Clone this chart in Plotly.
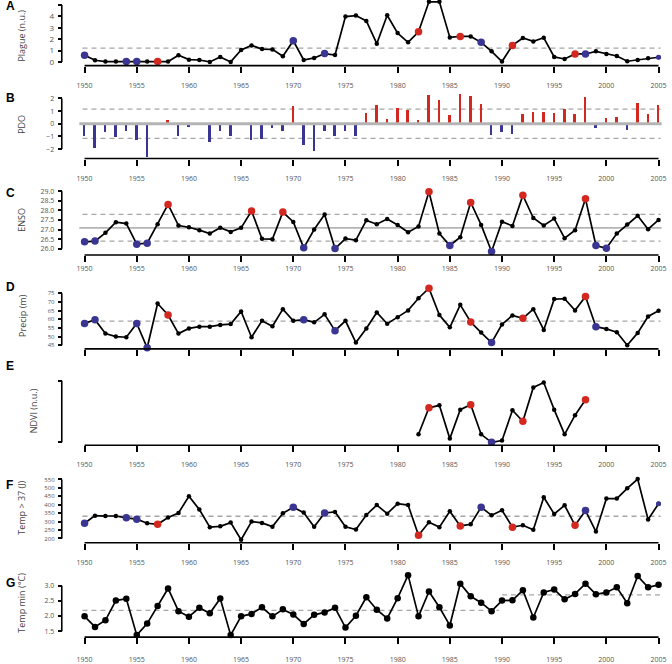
import plotly.graph_objects as go

# ---------------- data ----------------
years = list(range(1950, 2006))

plague = [0.58, 0.15, 0.03, 0.03, 0.03, 0.03, 0.03, 0.03, 0.03, 0.58,
          0.20, 0.17, 0.00, 0.44, 0.00, 1.05, 1.45, 1.13, 1.10, 0.50,
          1.86, 0.17, 0.35, 0.73, 0.60, 3.98, 4.07, 3.60, 1.60, 4.10,
          2.53, 1.72, 2.65, 5.28, 5.28, 2.15, 2.24, 2.24, 1.72, 0.93,
          0.03, 1.45, 2.10, 1.80, 2.12, 0.44, 0.26, 0.70, 0.70, 0.93,
          0.70, 0.52, 0.06, 0.17, 0.32, 0.41]
plague_ref = 1.22
plague_red = [1957, 1982, 1986, 1991, 1997]
plague_blue = [1950, 1954, 1955, 1970, 1973, 1988, 1998]
plague_blue_small = [2005]

pdo = [-1.02, -1.96, -0.71, -1.07, -0.63, -1.31, -2.62, 0.00, 0.26, -1.02,
       -0.31, 0.00, -1.49, -0.63, -0.97, 0.00, -1.34, -1.26, -0.39, -0.63,
       1.39, -1.73, -2.15, -0.63, -0.98, -0.58, -1.02, 0.79, 1.44, 0.37,
       1.18, 1.07, 0.26, 2.22, 1.83, 0.65, 2.28, 2.17, 1.52, -0.92,
       -0.71, -0.81, 0.76, 0.86, 0.89, 0.84, 1.13, 0.73, 2.09, -0.39,
       0.39, 0.52, -0.52, 1.60, 0.71, 1.44]
pdo_ref = 1.15

enso = [26.36, 26.40, 26.83, 27.38, 27.31, 26.24, 26.29, 27.28, 28.31, 27.21,
        27.12, 26.97, 26.79, 27.10, 26.88, 27.09, 27.97, 26.52, 26.50, 27.91,
        27.40, 26.05, 27.00, 27.78, 26.01, 26.53, 26.45, 27.48, 27.28, 27.55,
        27.24, 26.86, 27.16, 28.97, 26.79, 26.17, 26.60, 28.41, 27.24, 25.86,
        27.41, 27.19, 28.78, 27.60, 27.21, 27.57, 26.55, 26.97, 28.60, 26.17,
        26.03, 26.79, 27.26, 27.72, 27.02, 27.50]
enso_mean = 27.09
enso_hi = 27.79
enso_lo = 26.40
enso_red = [1958, 1966, 1969, 1983, 1987, 1992, 1998]
enso_blue = [1950, 1951, 1955, 1956, 1971, 1974, 1985, 1989, 1999, 2000]

precip = [57.6, 59.7, 51.7, 50.0, 49.6, 57.6, 43.5, 69.1, 62.4, 51.7,
          54.7, 55.7, 55.7, 56.7, 57.2, 64.5, 49.6, 59.1, 55.9, 65.8,
          59.1, 59.7, 58.2, 62.8, 53.4, 59.1, 46.5, 54.6, 63.9, 57.4,
          61.2, 65.1, 72.1, 77.9, 62.4, 55.3, 68.3, 58.4, 52.3, 46.5,
          57.0, 62.2, 60.5, 65.8, 53.8, 71.6, 71.8, 65.1, 73.1, 55.7,
          54.4, 52.5, 45.0, 52.1, 61.6, 64.9]
precip_ref = 58.9
precip_red = [1958, 1983, 1987, 1992, 1998]
precip_blue = [1950, 1951, 1955, 1956, 1971, 1974, 1989, 1999]

ndvi_years = list(range(1982, 1999))
ndvi = [0.13, 0.56, 0.60, 0.06, 0.53, 0.61, 0.13, 0.00, 0.03, 0.52,
        0.34, 0.89, 0.97, 0.53, 0.13, 0.44, 0.69]
ndvi_red = [1983, 1987, 1992, 1998]
ndvi_blue = [1989]

temp37 = [290, 335, 333, 333, 322, 314, 290, 284, 324, 351,
          450, 371, 267, 272, 294, 192, 300, 292, 270, 349,
          385, 353, 269, 351, 357, 269, 253, 339, 398, 347,
          406, 398, 219, 296, 267, 361, 274, 284, 385, 337,
          367, 267, 278, 251, 444, 345, 396, 278, 365, 241,
          436, 436, 497, 552, 312, 406]
temp37_ref = 331.5
temp37_red = [1957, 1982, 1986, 1991, 1997]
temp37_blue = [1950, 1954, 1955, 1970, 1973, 1988, 1998]
temp37_blue_small = [2005]

tmin = [1.99, 1.64, 1.86, 2.51, 2.57, 1.37, 1.75, 2.33, 2.91, 2.16,
        1.98, 2.27, 2.09, 2.58, 1.37, 1.99, 2.07, 2.29, 1.99, 2.22,
        2.05, 1.74, 2.04, 2.12, 2.27, 1.62, 2.01, 2.62, 2.21, 1.92,
        2.59, 3.35, 1.99, 2.81, 2.29, 1.69, 3.07, 2.65, 2.44, 2.16,
        2.51, 2.52, 2.85, 1.95, 2.78, 2.88, 2.55, 2.73, 3.07, 2.72,
        2.78, 2.95, 2.42, 3.32, 2.95, 3.03]
tmin_ref_early = 2.19
tmin_ref_late = 2.70
tmin_split = 1990

xtick_vals = list(range(1950, 2006, 5))
xtick_text = [str(v) for v in xtick_vals]

# ---------------- styling / geometry ----------------
W, H = 672, 664
RED = "#d2281f"
BLUE = "#3a3592"
GRAY = "#a6a6a6"
TICKFONT = dict(family="Open Sans", size=7, color="#555555")
X1950, PX_PER_YEAR = 82.3, 10.53
SPINE_X = 59.3


def xpix(yr):
    return X1950 + (yr - 1950) * PX_PER_YEAR


XR = [1949.5, 2005.5]
XDOM = [xpix(XR[0]) / W, xpix(XR[1]) / W]

# letter, title, bottom px, top px, (v_a, p_a, v_b, p_b), tickvals, y labels?, x labels?, standoff, tickformat, tick font size
panels = [
    ("A", "Plague (n.u.)", 66, 0, (5, 5.0, 0, 62.3), [0, 1, 2, 3, 4, 5], True, True, 7, "d", 8),
    ("B", "PDO", 159.5, 90, (2, 99.0, -2, 150.0), [-2, -1, 0, 1, 2], True, True, 7, "d", 7),
    ("C", "ENSO", 256.5, 186, (29, 192.3, 26, 250.3), [26, 26.5, 27, 27.5, 28, 28.5, 29], True, True, 1, ".1f", 7),
    ("D", "Precip (m)", 351, 283, (75, 295.0, 45, 347.3), [45, 50, 55, 60, 65, 70, 75], True, False, 7, "d", 6),
    ("E", "NDVI (n.u.)", 448, 378, (1, 383.0, 0, 445.0), [0, 1], False, True, 6, "d", 6),
    ("F", "Temp > 37 (J)", 546, 476, (550, 482.3, 200, 541.7), list(range(200, 551, 50)), True, True, 7, "d", 6),
    ("G", "Temp min (°C)", 641, 572, (3.0, 589.3, 1.5, 635.0), [1.5, 2.0, 2.5, 3.0], True, True, 9, ".1f", 7),
]
letter_y = {"A": 6, "B": 99, "C": 194, "D": 289, "E": 368, "F": 488, "G": 587}

fig = go.Figure()
layout = dict(width=W, height=H, margin=dict(l=0, r=0, t=0, b=0, pad=0),
              paper_bgcolor="white", plot_bgcolor="white", showlegend=False)
shapes = []
annotations = []

for i, (letter, title, bot, top, cal, tv, showyl, showxl, standoff, tfmt, tfs) in enumerate(panels):
    n = "" if i == 0 else str(i + 1)
    va, pa, vb, pb = cal
    slope = (vb - va) / (pb - pa)
    r0 = va + (bot - pa) * slope
    r1 = va + (top - pa) * slope
    layout["xaxis" + n] = dict(
        domain=XDOM, range=XR, anchor="y" + n, showgrid=False, zeroline=False,
        showline=False, ticks="outside", ticklen=6, tickwidth=1.5, tickcolor="black",
        tickvals=xtick_vals, ticktext=xtick_text, showticklabels=showxl,
        tickfont=TICKFONT, ticklabelstandoff=standoff, fixedrange=True)
    layout["yaxis" + n] = dict(
        domain=[1 - bot / H, 1 - top / H], range=[r0, r1], anchor="free",
        position=SPINE_X / W, showgrid=False, zeroline=False, showline=False,
        ticks="outside", ticklen=4, tickwidth=1.5, tickcolor="black",
        tickvals=tv, tickformat=tfmt, showticklabels=showyl,
        tickfont=dict(family="Open Sans", size=tfs, color="#555555"),
        ticklabelstandoff=2, fixedrange=True)
    shapes.append(dict(type="line", xref="paper", yref="y" + n, x0=SPINE_X / W, x1=SPINE_X / W,
                       y0=min(tv), y1=max(tv), line=dict(color="black", width=1.6)))
    shapes.append(dict(type="line", xref="x" + n, yref="y" + n + " domain", x0=1950, x1=2005,
                       y0=0, y1=0, line=dict(color="black", width=1.6)))
    annotations.append(dict(text="<b>%s</b>" % letter, xref="paper", yref="paper",
                            x=1 / W, y=1 - letter_y[letter] / H,
                            xanchor="left", yanchor="middle", showarrow=False,
                            font=dict(family="Liberation Sans", size=12, color="black")))
    annotations.append(dict(text=title, xref="paper", yref="paper",
                            x=(31 if letter == "E" else 19) / W,
                            y=1 - ((bot + top) / 2 + (0 if letter != "A" else 3)) / H,
                            textangle=-90, showarrow=False, xanchor="center", yanchor="middle",
                            font=dict(family="Open Sans", size=9, color="#444444")))


def hline(axn, y, x0=1949.8, x1=2005.2, dash="5px,4px", width=1.3, color=GRAY, layer="below"):
    shapes.append(dict(type="line", xref="x" + axn, yref="y" + axn, x0=x0, x1=x1, y0=y, y1=y,
                       layer=layer, line=dict(color=color, width=width, dash=dash)))


def series(axn, xs, ys, red, blue, small_blue=(), black_size=4.5, col_size=7.5):
    fig.add_trace(go.Scatter(x=xs, y=ys, mode="lines+markers", xaxis="x" + axn, yaxis="y" + axn,
                             line=dict(color="black", width=1.7),
                             marker=dict(color="black", size=black_size), cliponaxis=False,
                             hoverinfo="skip"))
    for yrs, col, sz in ((red, RED, col_size), (blue, BLUE, col_size), (small_blue, BLUE, 5)):
        if yrs:
            fig.add_trace(go.Scatter(x=list(yrs), y=[ys[xs.index(v)] for v in yrs], mode="markers",
                                     xaxis="x" + axn, yaxis="y" + axn, cliponaxis=False,
                                     marker=dict(color=col, size=sz), hoverinfo="skip"))


# A
hline("", plague_ref)
series("", years, plague, plague_red, plague_blue, plague_blue_small)

# B
hline("2", pdo_ref)
hline("2", -pdo_ref)
fig.add_trace(go.Bar(x=years, y=pdo, xaxis="x2", yaxis="y2", width=0.24,
                     marker=dict(color=[RED if v > 0 else BLUE for v in pdo], line=dict(width=0)),
                     hoverinfo="skip"))
hline("2", 0, x0=1949.4, x1=2005.3, dash="solid", width=3.2, color="#b4b4b4", layer="above")

# C
hline("3", enso_mean, x0=1949.4, x1=2005.3, dash="solid", width=1.6, color="#b4b4b4")
hline("3", enso_hi)
hline("3", enso_lo)
series("3", years, enso, enso_red, enso_blue)

# D
hline("4", precip_ref)
series("4", years, precip, precip_red, precip_blue)

# E
series("5", ndvi_years, ndvi, ndvi_red, ndvi_blue)

# F
hline("6", temp37_ref)
series("6", years, temp37, temp37_red, temp37_blue, temp37_blue_small)

# G
hline("7", tmin_ref_early, x0=1949.8, x1=tmin_split - 0.3)
hline("7", tmin_ref_late, x0=tmin_split, x1=2005.3)
series("7", years, tmin, [], [], black_size=6.5)

layout["shapes"] = shapes
layout["annotations"] = annotations
layout["bargap"] = 0
fig.update_layout(**layout)
fig.write_html("out.html", config={"displayModeBar": False},
               post_script="document.body.style.margin='0';document.body.style.padding='0';")
